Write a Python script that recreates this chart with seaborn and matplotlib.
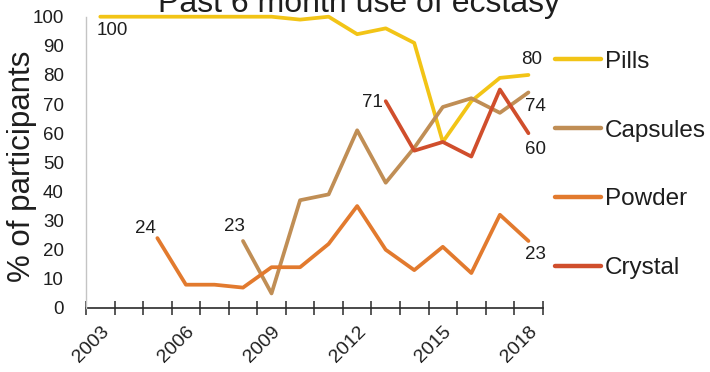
import numpy as np
import pandas as pd
import matplotlib
matplotlib.use("Agg")
import matplotlib.pyplot as plt
import seaborn as sns

# Survey years and the share of participants reporting each form of ecstasy
years_pills = [2003, 2004, 2005, 2006, 2007, 2008, 2009, 2010, 2011, 2012, 2013, 2014, 2015, 2016, 2017, 2018]
pills = [100, 100, 100, 100, 100, 100, 100, 99, 100, 94, 96, 91, 57, 71, 79, 80]

years_capsules = [2008, 2009, 2010, 2011, 2012, 2013, 2014, 2015, 2016, 2017, 2018]
capsules = [23, 5, 37, 39, 61, 43, 55, 69, 72, 67, 74]

years_powder = [2005, 2006, 2007, 2008, 2009, 2010, 2011, 2012, 2013, 2014, 2015, 2016, 2017, 2018]
powder = [24, 8, 8, 7, 14, 14, 22, 35, 20, 13, 21, 12, 32, 23]

years_crystal = [2013, 2014, 2015, 2016, 2017, 2018]
crystal = [71, 54, 57, 52, 75, 60]

forms = ["Pills", "Capsules", "Powder", "Crystal"]
colors = {"Pills": "#F2C416", "Capsules": "#C08E55", "Powder": "#E27A2E", "Crystal": "#D04E2C"}

x_label_years = [2003, 2006, 2009, 2012, 2015, 2018]

df = pd.concat([
    pd.DataFrame({"Year": years_pills, "Percent": pills, "Form": "Pills"}),
    pd.DataFrame({"Year": years_capsules, "Percent": capsules, "Form": "Capsules"}),
    pd.DataFrame({"Year": years_powder, "Percent": powder, "Form": "Powder"}),
    pd.DataFrame({"Year": years_crystal, "Percent": crystal, "Form": "Crystal"}),
], ignore_index=True)

sns.set_theme(style="white")
plt.rcParams["font.family"] = ["Liberation Sans", "DejaVu Sans"]
text_color = "#1e1e1e"

fig = plt.figure(figsize=(7.10, 3.72), dpi=100)
ax = fig.add_axes([86 / 710, 1 - 308 / 372, (542.7 - 86) / 710, (308 - 16.7) / 372])

sns.lineplot(data=df, x="Year", y="Percent", hue="Form", hue_order=forms,
             palette=colors, linewidth=2.7, ax=ax, clip_on=False,
             solid_joinstyle="round")

ax.set_xlim(2002.5, 2018.5)
ax.set_ylim(0, 100)

# y axis: labels only, light spine
ax.set_yticks(np.arange(0, 101, 10))
ax.tick_params(axis="y", length=0, pad=16, labelsize=13.5, labelcolor=text_color)
ax.set_ylabel("% of participants", fontsize=22.5, color=text_color, va="center")
ax.yaxis.set_label_coords(-0.140, 0.485)

# x axis: category boundaries as crossing ticks, labels every third year
ax.set_xticks(x_label_years)
ax.set_xticks(np.arange(2002.5, 2019, 1.0), minor=True)
ax.tick_params(axis="x", which="major", length=0, pad=11, labelsize=14, labelcolor=text_color)
ax.tick_params(axis="x", which="minor", direction="inout", length=10, width=1.1,
               color="#2a2a2a", bottom=True)
for lab in ax.get_xticklabels():
    lab.set_rotation(45)
    lab.set_ha("right")
    lab.set_va("top")
    lab.set_rotation_mode("anchor")
ax.set_xlabel("")

for side in ["top", "right"]:
    ax.spines[side].set_visible(False)
ax.spines["left"].set_color("#c4c4c4")
ax.spines["left"].set_linewidth(1.0)
ax.spines["bottom"].set_color("#2a2a2a")
ax.spines["bottom"].set_linewidth(1.2)
ax.spines["bottom"].set_zorder(1)

# end-point value labels
labels = [
    (years_pills[0], pills[0], 12, -14),
    (years_powder[0], powder[0], -12, 10),
    (years_capsules[0], capsules[0], -9, 15),
    (years_crystal[0], crystal[0], -13, -1),
    (years_pills[-1], pills[-1], 3, 15),
    (years_capsules[-1], capsules[-1], 7, -14),
    (years_crystal[-1], crystal[-1], 7, -16),
    (years_powder[-1], powder[-1], 7, -13),
]
for xv, yv, dx, dy in labels:
    ax.annotate(f"{yv}", xy=(xv, yv), xytext=(dx, dy), textcoords="offset pixels",
                ha="center", va="center", fontsize=13.5, color=text_color)

leg = ax.legend(loc="center left", bbox_to_anchor=(555 / 710, 1 - 165 / 372),
                bbox_transform=fig.transFigure, frameon=False, fontsize=17.5,
                handlelength=1.9, handletextpad=0.15, labelspacing=1.92,
                borderpad=0, borderaxespad=0)
for line in leg.get_lines():
    line.set_linewidth(3.2)
for t in leg.get_texts():
    t.set_color(text_color)

fig.text(359 / 710, 1 - 12 / 372, "Past 6 month use of ecstasy", ha="center",
         va="baseline", fontsize=23, color=text_color)

fig.savefig("out.png", dpi=100)
